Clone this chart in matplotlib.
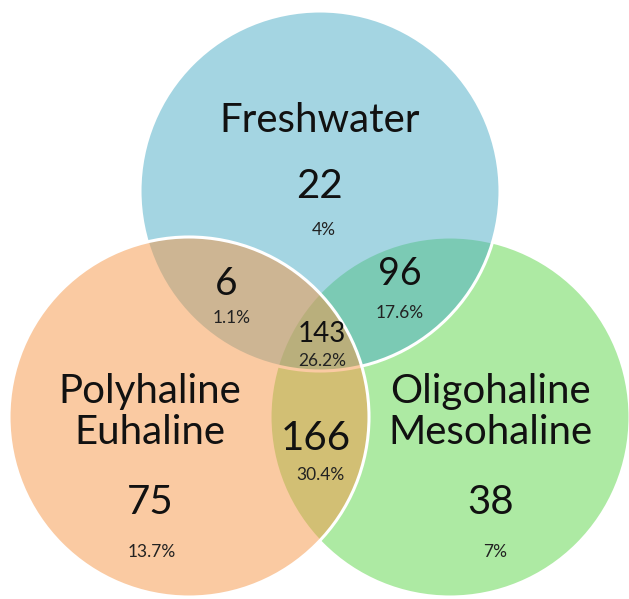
import matplotlib
matplotlib.use("Agg")
import matplotlib.pyplot as plt
from matplotlib.patches import Circle
from matplotlib.colors import to_rgba

# ---- data ----
set_names = ["Freshwater", "Polyhaline\nEuhaline", "Oligohaline\nMesohaline"]
region_keys = ["F", "P", "O", "FP", "FO", "PO", "FPO"]
region_counts = [22, 75, 38, 6, 96, 166, 143]
region_pcts = ["4%", "13.7%", "7%", "1.1%", "17.6%", "30.4%", "26.2%"]

# ---- layout (pixel coordinates, y downward) ----
W, H = 629, 599
circles = {  # name -> (cx, cy, r, color, zorder)
    "F": (320, 191, 180, "#4BACC6", 2),
    "P": (189, 417, 180, "#F79646", 3),
    "O": (450, 417, 180, "#5CD648", 1),
}
set_label_pos = {"F": (320, 121), "P": (150, 412), "O": (490, 412)}
count_pos = {"F": (320, 187), "P": (150, 503), "O": (491, 503),
             "FP": (226, 284), "FO": (400, 274), "PO": (316, 438),
             "FPO": (322, 334)}
count_size = {"F": 29, "P": 29, "O": 29, "FP": 28, "FO": 27, "PO": 29,
              "FPO": 20}
pct_pos = {"F": (324, 230), "P": (152, 552), "O": (495, 552),
           "FP": (232, 318), "FO": (400, 313), "PO": (320, 475),
           "FPO": (322, 361)}

plt.rcParams["font.family"] = ["Lato", "DejaVu Sans"]
fig = plt.figure(figsize=(W / 100, H / 100), dpi=100)
ax = fig.add_axes([0, 0, 1, 1])
ax.set_xlim(0, W)
ax.set_ylim(H, 0)
ax.set_aspect("equal")
ax.axis("off")

for key, (cx, cy, r, col, z) in circles.items():
    ax.add_patch(Circle((cx, cy), r, facecolor=to_rgba(col, 0.5),
                        edgecolor="none", zorder=z, lw=0))
    ax.add_patch(Circle((cx, cy), r, facecolor="none", edgecolor="white",
                        lw=2.2, zorder=z + 0.5))

big = 29
small = 12.5
set_keys = ["F", "P", "O"]
for k, name in zip(set_keys, set_names):
    x, y = set_label_pos[k]
    ax.text(x, y, name, ha="center", va="center", fontsize=big,
            color="#111111", zorder=10, linespacing=1.12)

for k, c, p in zip(region_keys, region_counts, region_pcts):
    x, y = count_pos[k]
    ax.text(x, y, str(c), ha="center", va="center", fontsize=count_size[k],
            color="#111111", zorder=10)
    x, y = pct_pos[k]
    ax.text(x, y, p, ha="center", va="center", fontsize=small,
            color="#222222", zorder=10)

fig.savefig("out.png", dpi=100)
